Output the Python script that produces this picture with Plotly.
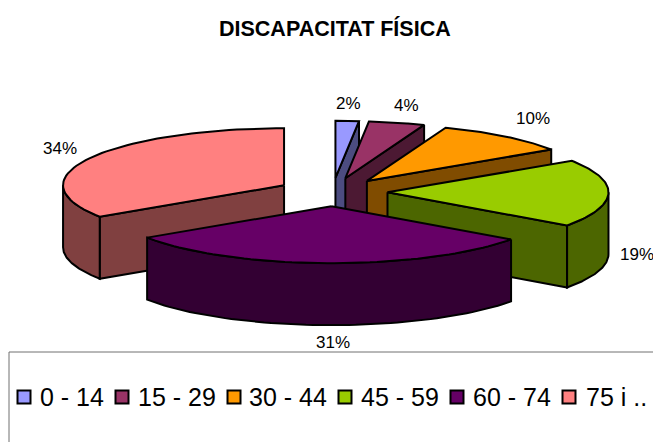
import math
import plotly.graph_objects as go

title = "DISCAPACITAT FÍSICA"
categories = ["0 - 14", "15 - 29", "30 - 44", "45 - 59", "60 - 74", "75 i .."]
values = [1.7, 4.1, 9.9, 19.2, 30.8, 34.3]
top_colors = ["#9999FF", "#993366", "#FF9900", "#99CC00", "#660066", "#FF8080"]
side_colors = ["#4C4C80", "#4C1933", "#804C00", "#4C6600", "#330033", "#804040"]

# projection of the tilted pie on to the pixel-sized axes
CX, CY, RX, RY, DEPTH, EXPLODE = 332.5, 192, 221, 57, 62, 55
# layout of labels and the hand-placed legend row
label_pos = [(348, 103), (406, 105), (533, 118), (637, 254), (333, 342), (60, 148)]
legend_marker_x = [24, 122, 234, 345, 457, 569]
legend_text_x = [38, 136, 247, 359, 471, 584]
LEGEND_Y = 397

fig = go.Figure()


def pt(cx, cy, deg, r=1.0):
    a = math.radians(deg)
    return cx + RX * r * math.sin(a), cy - RY * r * math.cos(a)


def poly(points, color):
    xs = [p[0] for p in points] + [points[0][0]]
    ys = [p[1] for p in points] + [points[0][1]]
    fig.add_trace(go.Scatter(x=xs, y=ys, mode="lines", fill="toself", fillcolor=color,
                             line=dict(color="black", width=2), hoverinfo="skip",
                             showlegend=False))


def arc(cx, cy, a0, a1, n=60):
    return [pt(cx, cy, a0 + (a1 - a0) * i / n) for i in range(n + 1)]


total = sum(values)
angles = []
cum = 0
for v in values:
    a0 = cum / total * 360
    cum += v
    angles.append((a0, cum / total * 360))

for i in [5, 0, 1, 2, 3, 4]:
    a0, a1 = angles[i]
    mid = math.radians((a0 + a1) / 2)
    cx = CX + EXPLODE * math.sin(mid)
    cy = CY - EXPLODE * RY / RX * math.cos(mid)
    apex = (cx, cy)
    down = lambda p: (p[0], p[1] + DEPTH)
    # radial walls facing the viewer
    if 180 < a0 % 360 < 360:
        e = pt(cx, cy, a0)
        poly([apex, e, down(e), down(apex)], side_colors[i])
    if 0 < a1 < 180:
        e = pt(cx, cy, a1)
        poly([apex, e, down(e), down(apex)], side_colors[i])
    # outer curved wall on the front half of the ellipse
    w0, w1 = max(a0, 90), min(a1, 270)
    if w1 > w0:
        rim = arc(cx, cy, w0, w1)
        poly(rim + [down(p) for p in reversed(rim)], side_colors[i])
    # top face
    poly([apex] + arc(cx, cy, a0, a1), top_colors[i])

# legend marks
fig.add_trace(go.Scatter(x=legend_marker_x, y=[LEGEND_Y] * 6, mode="markers",
                         marker=dict(symbol="square", size=13, color=top_colors,
                                     line=dict(color="black", width=2)),
                         hoverinfo="text", text=categories, showlegend=False))

annotations = []
for (x, y), v in zip(label_pos, values):
    annotations.append(dict(x=x, y=y, text=f"{round(v)}%", showarrow=False,
                            font=dict(size=17, color="black")))
for x, c in zip(legend_text_x, categories):
    annotations.append(dict(x=x, y=LEGEND_Y, text=c, showarrow=False, xanchor="left",
                            font=dict(size=25, color="black")))
annotations.append(dict(x=335, y=28, text=f"<b>{title}</b>", showarrow=False,
                        font=dict(size=21.5, color="black")))

fig.update_layout(
    width=653, height=442, margin=dict(l=0, r=0, t=0, b=0),
    autosize=False,
    paper_bgcolor="white", plot_bgcolor="white",
    font=dict(family="Liberation Sans, Arial, sans-serif"),
    xaxis=dict(range=[0, 653], visible=False, fixedrange=True),
    yaxis=dict(range=[442, 0], visible=False, fixedrange=True),
    showlegend=False,
    annotations=annotations,
    shapes=[dict(type="rect", x0=9, x1=660, y0=352, y1=450, layer="below",
                 line=dict(color="#707070", width=1), fillcolor="white")],
)
fig.write_html("out.html", config={"displayModeBar": False},
               post_script="document.body.style.margin='0';document.body.style.overflow='hidden';")
